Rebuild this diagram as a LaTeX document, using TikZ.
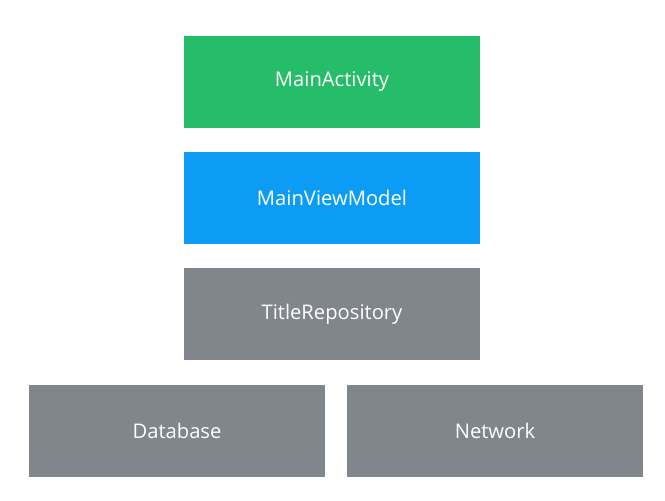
\documentclass[tikz,border=0pt]{standalone}
\usepackage{fontspec}
\setmainfont{Open Sans}
\definecolor{actgreen}{HTML}{25BD6A}
\definecolor{vmblue}{HTML}{0C9CF6}
\definecolor{repogray}{HTML}{80868B}
\begin{document}
\begin{tikzpicture}[x=0.02cm, y=-0.02cm]
\tikzset{layer/.style={rectangle, minimum width=5.92cm, minimum height=1.84cm, inner sep=0pt, text=white, font=\fontsize{11.5}{13}\selectfont}}
\useasboundingbox (0,0) rectangle (665,500);
% app layers
\node[layer, fill=actgreen] (act) at (332,82) {MainActivity};
\node[layer, fill=vmblue] (vm) at (332,198) {MainViewModel};
\node[layer, fill=repogray] (repo) at (332,314) {TitleRepository};
% data sources
\node[layer, fill=repogray] (db) at (177,431) {Database};
\node[layer, fill=repogray] (net) at (495,431) {Network};
\end{tikzpicture}
\end{document}
